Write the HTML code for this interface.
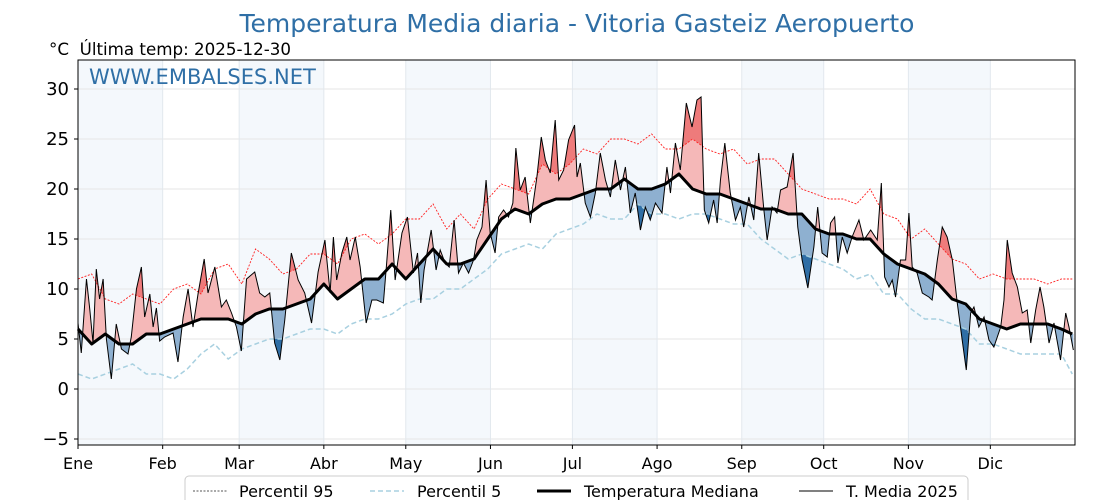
<!DOCTYPE html>
<html><head><meta charset="utf-8">
<style>
body{margin:0;background:#fff;}
svg{display:block;font-family:"DejaVu Sans","Liberation Sans",sans-serif;}
</style></head>
<body>
<svg id="chart" width="1120" height="500" viewBox="0 0 1120 500" xmlns="http://www.w3.org/2000/svg">
<text x="577" y="32" font-size="25" fill="#2f6fa6" text-anchor="middle">Temperatura Media diaria - Vitoria Gasteiz Aeropuerto</text>
<text x="49" y="55" font-size="16.7" fill="#000" xml:space="preserve">°C  Última temp: 2025-12-30</text>
<g id="plot"></g>
<text x="89" y="84" font-size="21" fill="#2f6fa6">WWW.EMBALSES.NET</text>
<g>
<rect x="185" y="476" width="783" height="30" rx="4" fill="#fff" stroke="#ccc"/>
<g><line x1="193" y1="491" x2="227" y2="491" stroke="#555" stroke-width="1" stroke-dasharray="2,1.5"/><text x="239" y="497" font-size="16">Percentil 95</text></g>
<g><line x1="370" y1="491" x2="404" y2="491" stroke="#a8d0e0" stroke-width="1.5" stroke-dasharray="5,3"/><text x="417" y="497" font-size="16">Percentil 5</text></g>
<g><line x1="537" y1="491" x2="571" y2="491" stroke="#000" stroke-width="3"/><text x="584" y="497" font-size="16">Temperatura Mediana</text></g>
<g><line x1="799" y1="491" x2="833" y2="491" stroke="#000" stroke-width="1"/><text x="846" y="497" font-size="16">T. Media 2025</text></g>
</g>
</svg>
<script>
const days = [0,5,10,15,20,25,30,35,40,45,50,55,60,65,70,75,80,85,90,95,100,105,110,115,120,125,130,135,140,145,150,155,160,165,170,175,180,185,190,195,200,205,210,215,220,225,230,235,240,245,250,255,260,265,270,275,280,285,290,295,300,305,310,315,320,325,330,335,340,345,350,355,360,364];
const median = [6,4.5,5.5,4.5,4.5,5.5,5.5,6,6.5,7,7,7,6.5,7.5,8,8,8.5,9,10.5,9,10,11,11,12.5,11,12.5,14,12.5,12.5,13,15,17,18,17.5,18.5,19,19,19.5,20,20,21,20,20,20.5,21.5,20,19.5,19.5,19,18.5,18,18,17.5,17.5,16,15.5,15.5,15,15,13.5,12.5,12,11.5,10.5,9,8.5,7,6.5,6,6.5,6.5,6.5,6,5.5];
const p95 = [11,11.5,9,8.5,9.5,9,8.5,10,10.5,9.5,12,12.5,10.5,14,13,11.5,12,13.5,13.5,12.5,15,15.5,14.5,15.5,17,17,18.5,16,17.5,16,19,20.5,20,19.5,22.5,21.5,22.5,24,23.5,25,25,24.5,25.5,24,24,25,24,23.5,24,22.5,23,23,21.5,20,19.5,19,19,18.5,20,17.5,17,15,16,14.5,13,12.5,11,11.5,11,11,11,10.5,11,11];
const p5 = [1.5,1,1.5,2,2.5,1.5,1.5,1,2,3.5,4.5,3,4,4.5,5,5,5.5,6,6,5.5,6.5,7,7,7.5,8.5,9,9,10,10,11,12,13.5,14,14.5,14,15.5,16,16.5,17.5,17,17,18.5,17.5,17.5,17,17.5,17.5,17,16.5,16.5,15,14,13,13.5,13,12.5,12,11,11.5,9.5,9.5,8,7,7,6.5,6,4.5,4.5,4,3.5,3.5,3.5,3.5,1.5];
const days2025 = [0,1.2,3.1,4.3,5.5,6.7,7.9,9.2,10.4,12.2,14,15.9,18.3,19.5,21.4,23.2,24.4,26.3,27.5,28.7,29.9,31.7,34.8,36.6,38.5,40.3,42.1,44,46.2,47.6,50.1,52.5,54.3,56.2,58,59.8,61.7,64.7,66.5,68.4,70.2,72,73.9,75.7,78.1,80.6,83,85.5,87.9,90.4,92.3,93.5,94.7,96.6,98.4,99.6,101.5,103.3,105.5,107.6,109.4,111.8,113,114.5,116.1,118.6,120.6,122.8,124.3,125.5,126.7,129.3,131.1,132.6,134.4,135.9,137.7,139.3,141.1,143,144.8,146,147.9,149.4,150.9,152.7,154,155.8,157.6,159.2,160.3,161.9,163.7,165.6,168,169.6,171.1,172.9,174.7,176,177.8,179.6,181.8,182.7,183.9,185.7,187.6,189.4,191.2,193.1,194.9,196.7,198.6,200.4,202.2,204,205.9,207.7,209.5,211.4,213.8,215.6,216.9,218.7,220.5,222.7,224.8,226.6,228.1,229.3,230.9,232.7,234,235.2,236.8,238.8,240.7,242.5,243.7,245.6,247.4,249.2,251.1,252.3,254.1,255.9,257.2,259.6,261.8,263.5,265.1,267.2,269.4,270.8,272.4,274.3,275.5,277,278.2,279.8,281.6,283.4,285.9,287.7,290.2,292.6,294.1,295.3,296.9,298.1,299.3,301.1,303,304.2,305.4,307.2,309.1,311.5,312.7,314.6,316.4,318.2,320.1,321.9,323.7,325.2,326.8,328,329.8,331.7,333.5,335.3,337.8,339,340.2,342,343.9,345.7,347.5,348.8,350.6,352.2,353.6,355.5,357.3,359.7,361.6,362.8,364.4];
const temp2025 = [6.6,3.6,11,8,4.6,12,9,11,5,1,6.5,4,3.5,5.2,10,12.2,7.2,9.5,6.2,8.1,4.8,5.2,5.6,2.7,7.2,10,6.2,9.6,13,9.6,12.2,8.2,8.9,7.6,6.2,3.8,11,11.7,9.6,9.2,9.6,4.6,2.9,6.9,13.6,10.9,9.6,6.6,11.7,14.9,9.6,15.2,10.9,13.6,15.2,12.9,15.2,12.2,6.6,8.9,8.9,8.6,12.6,17.9,10.9,15.6,17.2,11.6,13.6,8.6,11.9,15.9,11.9,13.9,12.6,12.2,16.9,11.6,12.6,11.6,12.9,14.9,16.2,20.9,15.6,13.6,17.2,17.9,17.2,18.6,24.1,19.9,21.2,16.6,21.2,25.2,22.9,21.6,26.9,20.9,21.9,24.9,26.4,21.2,22.6,18.6,17.2,19.6,23.6,20.9,19.2,22.9,19.9,22.2,17.6,19.6,15.9,18.2,16.9,18.6,17.6,22.2,19.6,24.6,21.9,28.6,26.2,28.9,29.2,17.9,16.6,18.9,16.6,20.9,24.6,19.6,16.9,18.2,16.2,19.2,16.9,23.6,17.9,14.9,18.2,17.6,19.9,20.2,23.6,16.2,12.9,10.1,14.2,18.2,13.6,13.2,16.6,17.2,12.6,15.2,13.6,15.2,16.9,14.9,15.9,14.9,20.6,11.2,10.2,10.9,9.2,12.9,12.9,17.6,12.2,11.6,9.6,9.2,8.9,12.9,16.2,15.2,12.9,8.6,4.9,1.9,7.6,8.2,6.2,7.2,4.9,4.2,6.2,8.9,14.9,11.6,10.2,7.6,7.9,4.6,7.9,10.2,8.2,4.6,6.6,2.9,7.6,6.2,3.9];
const yTicks = [-5,0,5,10,15,20,25,30];
const monthLabels = ["Ene","Feb","Mar","Abr","May","Jun","Jul","Ago","Sep","Oct","Nov","Dic"];
const monthStarts = [0,31,59,90,120,151,181,212,243,273,304,334];

const L=78,R=1075,T=60,B=445;
const X=d=>L+(R-L)*d/365;
const Y=v=>389-10*v;
const NS="http://www.w3.org/2000/svg";
const plot=document.getElementById('plot');
function mk(tag,attrs,parent){const e=document.createElementNS(NS,tag);for(const k in attrs)e.setAttribute(k,attrs[k]);(parent||plot).appendChild(e);return e;}

monthStarts.forEach((m,i)=>{
  if(i%2===0){const end=i<11?monthStarts[i+1]:365;
    const r=mk('rect',{x:X(m),y:T,width:X(end)-X(m),height:B-T,fill:'#f4f8fc'});
    
    }
});
yTicks.forEach(v=>{const l=mk('line',{x1:L,x2:R,y1:Y(v),y2:Y(v),stroke:'#e6e6e6','stroke-width':1});
  
  });
monthStarts.forEach(m=>{const l=mk('line',{x1:X(m),x2:X(m),y1:T,y2:B,stroke:'#e2e8ee','stroke-width':1});
  
  });

function interp(xs,arr,d){if(d<=xs[0])return arr[0];for(let i=0;i<xs.length-1;i++){if(d>=xs[i]&&d<=xs[i+1]){const t=(d-xs[i])/(xs[i+1]-xs[i]);return arr[i]+t*(arr[i+1]-arr[i]);}}return arr[arr.length-1];}
const fine=[];for(let d=0;d<=364.4;d+=0.2)fine.push(d);
function band(fnTop,fnBot,color,name){
  let top=fine.map(d=>X(d)+','+Y(fnTop(d))).join(' ');
  let bot=fine.slice().reverse().map(d=>X(d)+','+Y(fnBot(d))).join(' ');
  const p=mk('polygon',{points:top+' '+bot,fill:color,stroke:'none'});
  
  
}
const m=d=>interp(days,median,d),t=d=>interp(days2025,temp2025,d),h=d=>interp(days,p95,d),lo=d=>interp(days,p5,d);
band(d=>Math.max(t(d),m(d)),m,'#f5b8b8','fill-above-median');
band(m,d=>Math.min(t(d),m(d)),'#8eb0d0','fill-below-median');
band(d=>Math.max(t(d),h(d)),h,'#ee7b7b','fill-above-p95');
band(lo,d=>Math.min(t(d),lo(d)),'#2f6ea5','fill-below-p5');

function line(xs,arr,attrs,name){
  const pts=xs.map((d,i)=>X(d)+','+Y(arr[i])).join(' ');
  const a=Object.assign({points:pts,fill:'none'},attrs);
  const p=mk('polyline',a);
  
  
}
line(days,p95,{stroke:'#ff2020','stroke-width':0.9,'stroke-dasharray':'2,1.5'},'p95-line');
line(days,p5,{stroke:'#a8d0e0','stroke-width':1.5,'stroke-dasharray':'5,3'},'p5-line');
line(days2025,temp2025,{stroke:'#000','stroke-width':1},'temp-2025-line');
line(days,median,{stroke:'#000','stroke-width':3,'stroke-linejoin':'round'},'median-line');

const fr=mk('rect',{x:L,y:T,width:R-L,height:B-T,fill:'none',stroke:'#000','stroke-width':1});


yTicks.forEach(v=>{
  mk('line',{x1:L-4,x2:L,y1:Y(v),y2:Y(v),stroke:'#000'});
  const tx=mk('text',{x:L-9,y:Y(v)+6,'font-size':18,'text-anchor':'end',fill:'#000'});
  tx.textContent=(v<0?'\u2212'+Math.abs(v):v);
  
  
});
monthStarts.forEach((d,i)=>{
  mk('line',{x1:X(d),x2:X(d),y1:B,y2:B+4,stroke:'#000'});
  const tx=mk('text',{x:X(d),y:469,'font-size':16,'text-anchor':'middle',fill:'#000'});
  tx.textContent=monthLabels[i];
  
  
});
</script>
</body></html>
